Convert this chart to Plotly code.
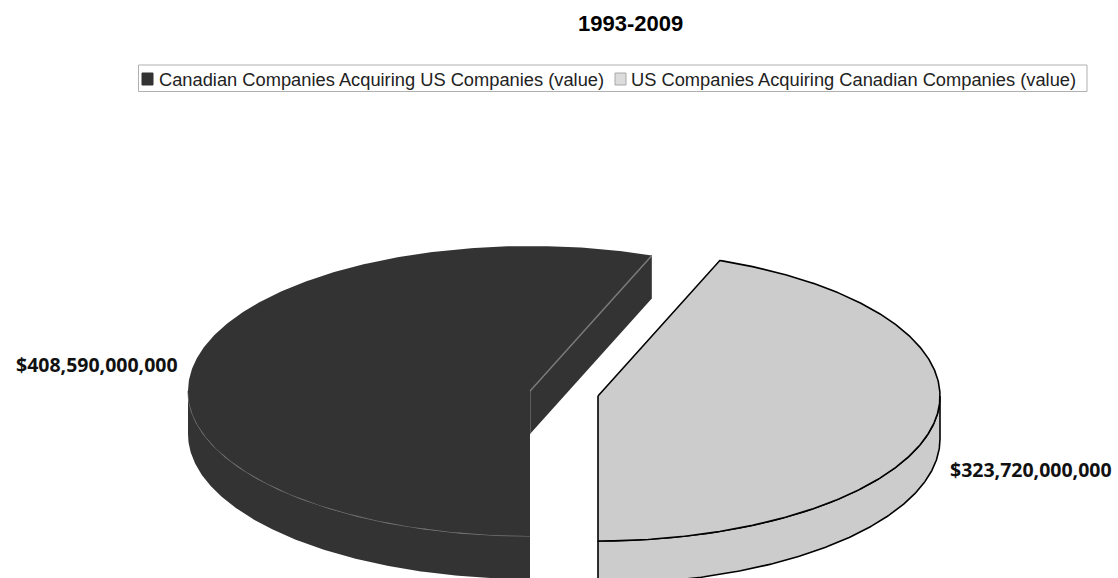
import numpy as np
import plotly.graph_objects as go

# Cross-border acquisition totals, 1993-2009
categories = [
    "Canadian Companies Acquiring US Companies (value)",
    "US Companies Acquiring Canadian Companies (value)",
]
values = [408_590_000_000, 323_720_000_000]
value_labels = ["$408,590,000,000", "$323,720,000,000"]
title_text = "1993-2009"

# Styling of the extruded pie
top_colors = ["#333333", "#cccccc"]
edge_colors = ["#7a7a7a", "#000000"]
edge_widths = [1.2, 1.6]
centers = [(530.0, 391.0), (598.0, 396.0)]   # each slice is pulled apart sideways
RX, RY, DEPTH = 342.0, 145.0, 43.0
START = 270.0                                 # first slice begins at the front

W, H = 1118, 578


def rim(cx, cy, a0, a1, dz=0.0, n=180):
    t = np.radians(np.linspace(a0, a1, n))
    return cx + RX * np.cos(t), cy - RY * np.sin(t) + dz


def overlap(a0, a1, b0, b1):
    lo, hi = max(min(a0, a1), b0), min(max(a0, a1), b1)
    return (lo, hi) if hi > lo else None


fig = go.Figure()

fracs = np.array(values, dtype=float) / np.sum(values)
angle = START
for i, f in enumerate(fracs):
    a_start, a_end = angle, angle - 360.0 * f      # clockwise sweep
    angle = a_end
    cx, cy = centers[i]
    fill = top_colors[i]
    line = dict(color=edge_colors[i], width=edge_widths[i])
    noline = dict(width=0, color=fill)

    # curved outer wall, front half only (180..360 degrees, wrapped)
    lo_s, hi_s = min(a_start, a_end), max(a_start, a_end)
    for shift in (0.0, 360.0, -360.0):
        seg = overlap(lo_s + shift, hi_s + shift, 180.0, 360.0)
        if seg is None:
            continue
        xt, yt = rim(cx, cy, seg[0], seg[1])
        xb, yb = rim(cx, cy, seg[1], seg[0], DEPTH)
        fig.add_trace(go.Scatter(
            x=np.r_[xt, xb, xt[:1]], y=np.r_[yt, yb, yt[:1]],
            mode="lines", fill="toself", fillcolor=fill,
            line=line if i == 1 else noline,
            hoverinfo="skip", showlegend=False))
        if i == 0:
            fig.add_trace(go.Scatter(x=xt, y=yt, mode="lines", line=line,
                                     hoverinfo="skip", showlegend=False))

    # flat cut faces that turn toward the viewer
    # (the slice lies on the lower-angle side of a_start, higher side of a_end)
    for a, turn in ((a_start, 90.0), (a_end, -90.0)):
        normal = np.radians(a + turn)
        if -np.sin(normal) <= 1e-6:      # facing away or edge-on
            continue
        ex, ey = rim(cx, cy, a, a, n=1)
        px = [cx, ex[0], ex[0], cx, cx]
        py = [cy, ey[0], ey[0] + DEPTH, cy + DEPTH, cy]
        fig.add_trace(go.Scatter(
            x=px, y=py, mode="lines", fill="toself", fillcolor=fill,
            line=noline, hoverinfo="skip", showlegend=False))
        fig.add_trace(go.Scatter(
            x=[ex[0], cx, cx], y=[ey[0], cy, cy + DEPTH], mode="lines",
            line=line, hoverinfo="skip", showlegend=False))

    # top face
    xt, yt = rim(cx, cy, a_start, a_end, n=360)
    fig.add_trace(go.Scatter(
        x=np.r_[cx, xt, cx], y=np.r_[cy, yt, cy],
        mode="lines", fill="toself", fillcolor=fill,
        line=line if i == 1 else noline,
        hoverinfo="skip", showlegend=False))
    if i == 0:
        fig.add_trace(go.Scatter(x=[cx, xt[-1]], y=[cy, yt[-1]], mode="lines",
                                 line=line, hoverinfo="skip", showlegend=False))

# value labels beside the slices
label_pos = [(96.5, 364.0), (1031.0, 469.0)]
annotations = []
for (lx, ly), txt in zip(label_pos, value_labels):
    annotations.append(dict(
        x=lx, y=ly, xref="x", yref="y", text=txt, showarrow=False,
        xanchor="center", yanchor="middle",
        font=dict(family="Open Sans", size=19.5, color="#111111", weight="bold")))

annotations.append(dict(
    x=630.5, y=23, xref="x", yref="y", text=f"<b>{title_text}</b>",
    showarrow=False, xanchor="center", yanchor="middle",
    font=dict(family="Liberation Sans, Arial", size=22, color="#000000")))

# legend strip
shapes = [dict(type="rect", xref="x", yref="y", x0=138.5, x1=1087, y0=65, y1=91.5,
               line=dict(color="#b0b0b0", width=1), fillcolor="rgba(0,0,0,0)",
               layer="above")]
legend_swatch_x = [142, 615]
legend_text_x = [157, 629]
swatch_fill = ["#333333", "#dcdcdc"]
swatch_line = ["#333333", "#a8a8a8"]
for k, name in enumerate(categories):
    sx = legend_swatch_x[k]
    shapes.append(dict(type="rect", xref="x", yref="y", x0=sx, x1=sx + 11,
                       y0=73, y1=85, fillcolor=swatch_fill[k],
                       line=dict(color=swatch_line[k], width=1), layer="above"))
    annotations.append(dict(
        x=legend_text_x[k], y=79.5, xref="x", yref="y", text=name,
        showarrow=False, xanchor="left", yanchor="middle",
        font=dict(family="Liberation Sans, Arial", size=18.3, color="#222222")))

fig.update_layout(
    width=W, height=H, autosize=False,
    margin=dict(l=0, r=0, t=0, b=0),
    paper_bgcolor="white", plot_bgcolor="white",
    xaxis=dict(range=[0, W], visible=False, fixedrange=True),
    yaxis=dict(range=[H, 0], visible=False, fixedrange=True),
    shapes=shapes, annotations=annotations, showlegend=False,
)

fig.write_html("out.html", config={"displayModeBar": False})
